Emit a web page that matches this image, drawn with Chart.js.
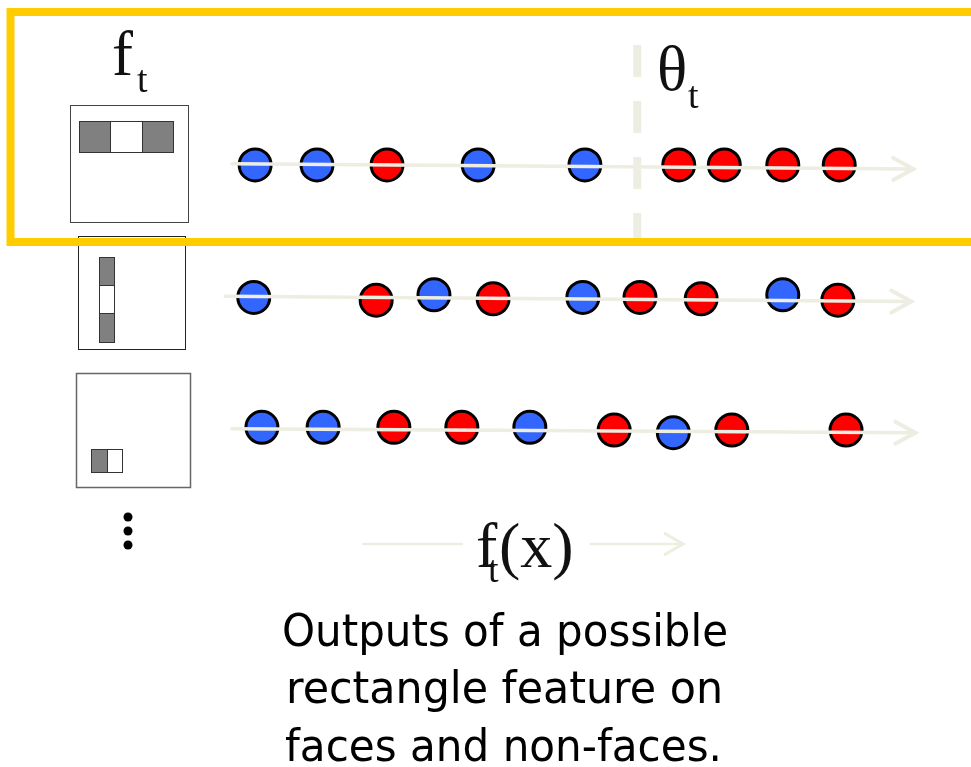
<!DOCTYPE html>
<html>
<head>
<meta charset="utf-8">
<script src="https://cdn.jsdelivr.net/npm/chart.js@4/dist/chart.umd.min.js"></script>
<style>
  html, body { margin: 0; padding: 0; background: #ffffff; }
  #wrap { width: 971px; height: 767px; position: relative; }
</style>
</head>
<body>
<div id="wrap"><canvas id="c" width="971" height="767"></canvas></div>
<script>
// ---- Data (feature output values f_t(x), one row per rectangle feature) ----
const rows = ['f1: three-rectangle horizontal', 'f2: three-rectangle vertical', 'f3: two-rectangle'];

// Row 1
const row1Values = [0.34, 1.25, 2.28, 3.62, 5.19, 6.57, 7.24, 8.10, 8.93];
const row1Labels = ['non-face', 'non-face', 'face', 'non-face', 'non-face', 'face', 'face', 'face', 'face'];
const row1Offsets = [0, 0, 0, 0, 0, 0, 0, 0, 0];

// Row 2
const row2Values = [0.32, 2.12, 2.97, 3.84, 5.16, 6.00, 6.90, 8.10, 8.91];
const row2Labels = ['non-face', 'face', 'non-face', 'face', 'non-face', 'face', 'face', 'non-face', 'face'];
const row2Offsets = [0.00, 0.02, -0.02, 0.01, 0.00, 0.00, 0.01, -0.02, 0.02];

// Row 3
const row3Values = [0.44, 1.34, 2.38, 3.38, 4.38, 5.62, 6.49, 7.35, 9.03];
const row3Labels = ['non-face', 'non-face', 'face', 'face', 'non-face', 'face', 'non-face', 'face', 'face'];
const row3Offsets = [-0.02, -0.02, -0.02, -0.02, -0.02, 0.00, 0.02, 0.00, 0.00];

// Threshold theta_t for the selected feature (row 1)
const thetaT = 5.96;

// Axis (arrow) extents for each row, in value units
const axisStart = [0.0, -0.10, 0.0];
const axisEnd = [10.02, 9.99, 10.05];
const axisRowStartY = [-0.01, -0.01, -0.01];
const axisRowEndY = [0.03, 0.03, 0.02];

// ---- Build datasets ----
const rowValues = [row1Values, row2Values, row3Values];
const rowLabels = [row1Labels, row2Labels, row3Labels];
const rowOffsets = [row1Offsets, row2Offsets, row3Offsets];

function pointsFor(cls) {
  const pts = [];
  rowValues.forEach((vals, r) => {
    vals.forEach((v, i) => {
      if (rowLabels[r][i] === cls) pts.push({ x: v, y: r + rowOffsets[r][i] });
    });
  });
  return pts;
}

const BEIGE = '#EDEDE2';

const decorations = {
  id: 'decorations',
  afterDatasetsDraw(chart) {
    const ctx = chart.ctx;
    const xs = chart.scales.x, ys = chart.scales.y;
    ctx.save();
    // Row axes with open arrow heads (drawn over the points)
    for (let r = 0; r < rows.length; r++) {
      const x0 = xs.getPixelForValue(axisStart[r]);
      const x1 = xs.getPixelForValue(axisEnd[r]);
      const y0 = ys.getPixelForValue(r + axisRowStartY[r]);
      const y1 = ys.getPixelForValue(r + axisRowEndY[r]);
      ctx.strokeStyle = BEIGE;
      ctx.lineWidth = 3.5;
      ctx.lineCap = 'round';
      ctx.beginPath();
      ctx.moveTo(x0, y0);
      ctx.lineTo(x1, y1);
      ctx.stroke();
      ctx.lineWidth = 4;
      ctx.beginPath();
      ctx.moveTo(x1 - 20, y1 - 11);
      ctx.lineTo(x1, y1);
      ctx.lineTo(x1 - 20, y1 + 11);
      ctx.stroke();
    }
    // Threshold dashed line
    const tx = xs.getPixelForValue(thetaT);
    ctx.strokeStyle = BEIGE;
    ctx.lineWidth = 8;
    ctx.lineCap = 'butt';
    ctx.setLineDash([32, 24]);
    ctx.beginPath();
    ctx.moveTo(tx, 45);
    ctx.lineTo(tx, 250);
    ctx.stroke();
    ctx.setLineDash([]);
    ctx.restore();
  },
  afterDraw(chart) {
    const ctx = chart.ctx;
    ctx.save();
    // Feature boxes
    function box(x, y, w, h, stroke, lw) {
      ctx.fillStyle = '#ffffff';
      ctx.fillRect(x, y, w, h);
      ctx.strokeStyle = stroke;
      ctx.lineWidth = lw;
      ctx.strokeRect(x + 0.5, y + 0.5, w, h);
    }
    function cell(x, y, w, h, dark) {
      ctx.fillStyle = dark ? '#808080' : '#ffffff';
      ctx.fillRect(x, y, w, h);
      ctx.strokeStyle = '#333333';
      ctx.lineWidth = 1;
      ctx.strokeRect(x + 0.5, y + 0.5, w, h);
    }
    box(70, 105, 118, 117, '#444444', 1);
    cell(79, 121, 31, 31, true);
    cell(110, 121, 32, 31, false);
    cell(142, 121, 31, 31, true);

    box(78, 236, 107, 113, '#222222', 1);
    cell(99, 257, 15, 28, true);
    cell(99, 285, 15, 28, false);
    cell(99, 313, 15, 29, true);

    box(76, 373, 114, 114, '#666666', 1.5);
    cell(91, 449, 16, 23, true);
    cell(107, 449, 15, 23, false);

    // vertical ellipsis
    ctx.fillStyle = '#000000';
    [517, 531, 545].forEach(y => {
      ctx.beginPath();
      ctx.arc(128, y, 4.5, 0, Math.PI * 2);
      ctx.fill();
    });

    // Yellow highlight frame
    ctx.strokeStyle = '#FFCC00';
    ctx.lineWidth = 8;
    ctx.strokeRect(10.5, 12, 1000, 230);

    // Serif math labels
    ctx.fillStyle = '#111111';
    ctx.textBaseline = 'alphabetic';
    ctx.textAlign = 'left';
    ctx.font = '63px "Liberation Serif", "DejaVu Serif", serif';
    ctx.fillText('f', 112, 75);
    ctx.font = '38px "Liberation Serif", "DejaVu Serif", serif';
    ctx.fillText('t', 137, 92);

    ctx.font = '63px "Liberation Serif", "DejaVu Serif", serif';
    ctx.fillText('\u03B8', 657, 90);
    ctx.font = '38px "Liberation Serif", "DejaVu Serif", serif';
    ctx.fillText('t', 688, 108);

    // f_t(x) axis label with arrow
    ctx.strokeStyle = BEIGE;
    ctx.lineWidth = 2.5;
    ctx.beginPath();
    ctx.moveTo(362, 544); ctx.lineTo(463, 544);
    ctx.moveTo(590, 544); ctx.lineTo(683, 544);
    ctx.stroke();
    ctx.lineWidth = 3;
    ctx.beginPath();
    ctx.moveTo(664, 533); ctx.lineTo(683, 544); ctx.lineTo(664, 555);
    ctx.stroke();

    ctx.fillStyle = '#111111';
    ctx.font = '64px "Liberation Serif", "DejaVu Serif", serif';
    ctx.fillText('f', 476, 567);
    ctx.font = '38px "Liberation Serif", "DejaVu Serif", serif';
    ctx.fillText('t', 488, 582);
    ctx.font = '64px "Liberation Serif", "DejaVu Serif", serif';
    ctx.fillText('(x)', 499, 567);

    // Caption
    ctx.fillStyle = '#000000';
    ctx.textAlign = 'center';
    ctx.font = '45px "DejaVu Sans", sans-serif';
    ctx.fillText('Outputs of a possible', 505, 646, 446);
    ctx.fillText('rectangle feature on', 504.5, 703, 437);
    ctx.fillText('faces and non-faces.', 503.5, 761, 437);
    ctx.restore();
  }
};

new Chart(document.getElementById('c'), {
  type: 'scatter',
  data: {
    datasets: [
      {
        label: 'Non-faces',
        data: pointsFor('non-face'),
        backgroundColor: '#3366FF',
        borderColor: '#000000',
        borderWidth: 3,
        pointRadius: 16,
        pointHoverRadius: 16,
        clip: false
      },
      {
        label: 'Faces',
        data: pointsFor('face'),
        backgroundColor: '#FF0000',
        borderColor: '#000000',
        borderWidth: 3,
        pointRadius: 16,
        pointHoverRadius: 16,
        clip: false
      }
    ]
  },
  options: {
    responsive: false,
    devicePixelRatio: 1,
    animation: false,
    layout: { padding: 0, autoPadding: false },
    plugins: { legend: { display: false }, tooltip: { enabled: false } },
    events: [],
    scales: {
      x: { type: 'linear', min: -3.412, max: 10.868, display: false },
      y: { type: 'linear', reverse: true, min: -1.245, max: 4.543, display: false }
    }
  },
  plugins: [decorations]
});
</script>
</body>
</html>
